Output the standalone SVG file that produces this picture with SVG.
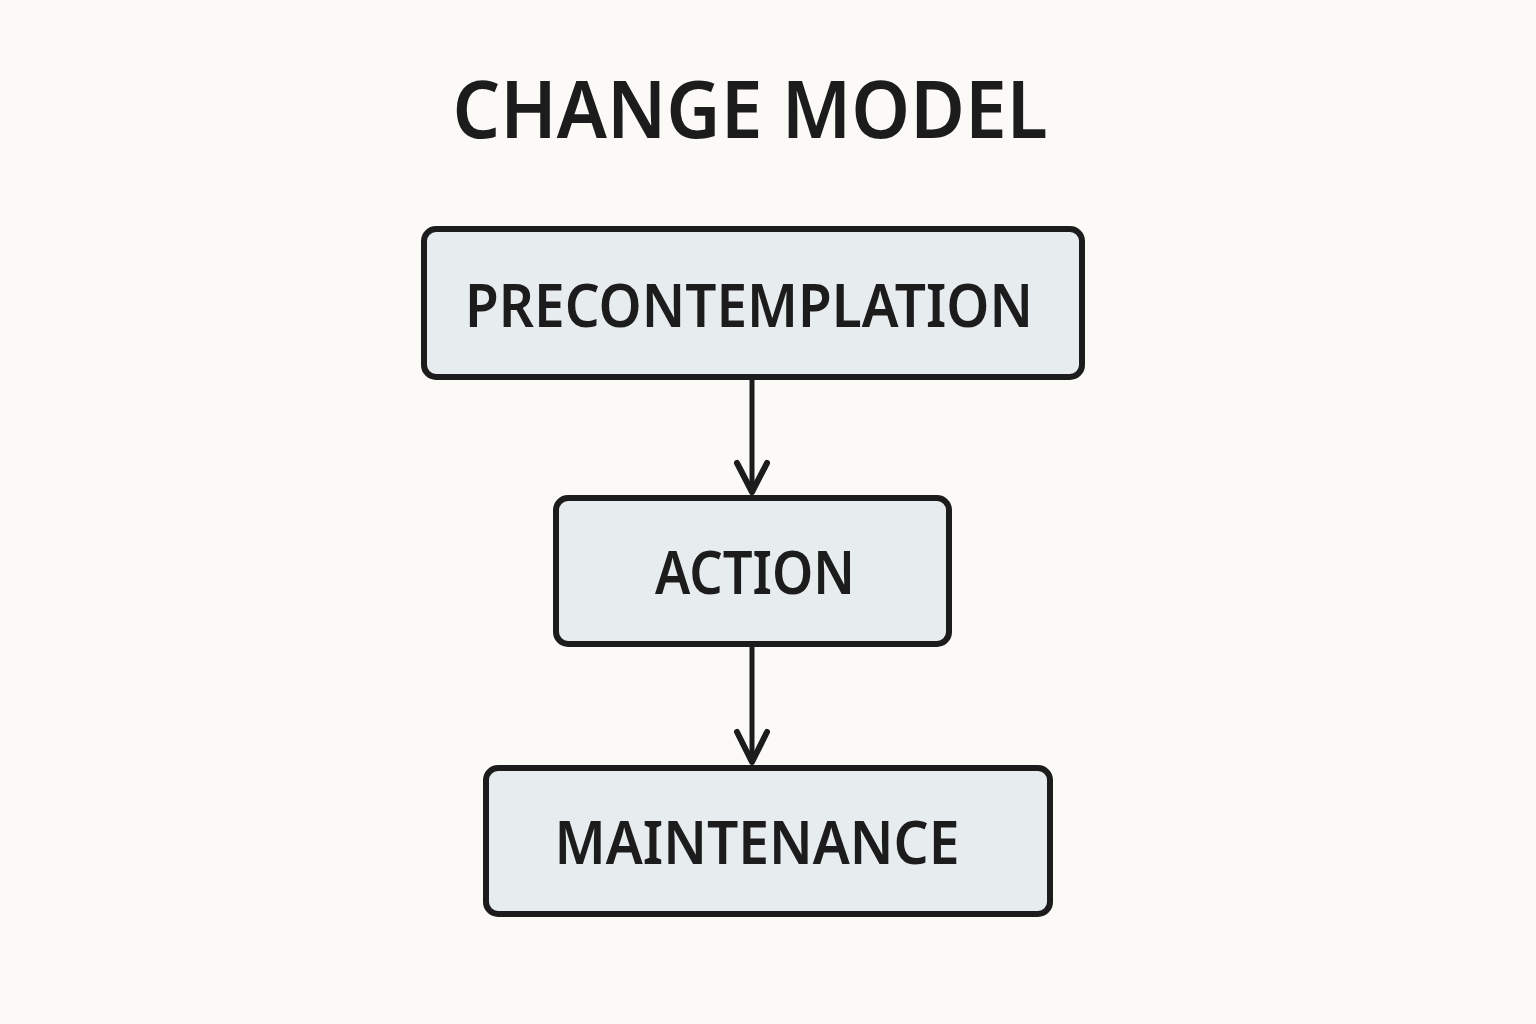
<svg xmlns="http://www.w3.org/2000/svg" width="1536" height="1024" viewBox="0 0 1536 1024">
<style>
.node rect{fill:#e7ecef;stroke:#1c1c1c;stroke-width:6}
.lbl{font-family:"Noto Sans","DejaVu Sans",sans-serif;font-weight:600;fill:#1c1c1c;text-anchor:middle}
.conn line,.conn polyline{stroke:#1c1c1c;stroke-width:5;fill:none;stroke-linecap:round;stroke-linejoin:round}
.conn polyline{stroke-width:6}
</style>
<rect width="1536" height="1024" fill="#fbfaf6"/>
<text class="lbl" x="750" y="138" font-size="80" textLength="595" lengthAdjust="spacingAndGlyphs">CHANGE MODEL</text>
<g class="conn">
<line x1="752" y1="378" x2="752" y2="492"/>
<polyline points="737,463 752,492 767,463"/>
<line x1="752" y1="645" x2="752" y2="762"/>
<polyline points="737,732 752,762 767,732"/>
</g>
<g id="precontemplation" class="node">
<rect x="424" y="229" width="658" height="148" rx="12"/>
<text class="lbl" x="749" y="327" font-size="60" textLength="568" lengthAdjust="spacingAndGlyphs">PRECONTEMPLATION</text>
</g>
<g id="action" class="node">
<rect x="556" y="498" width="393" height="146" rx="12"/>
<text class="lbl" x="755" y="594" font-size="60" textLength="200" lengthAdjust="spacingAndGlyphs">ACTION</text>
</g>
<g id="maintenance" class="node">
<rect x="486" y="768" width="564" height="146" rx="12"/>
<text class="lbl" x="757" y="864" font-size="60" textLength="405" lengthAdjust="spacingAndGlyphs">MAINTENANCE</text>
</g>
</svg>
